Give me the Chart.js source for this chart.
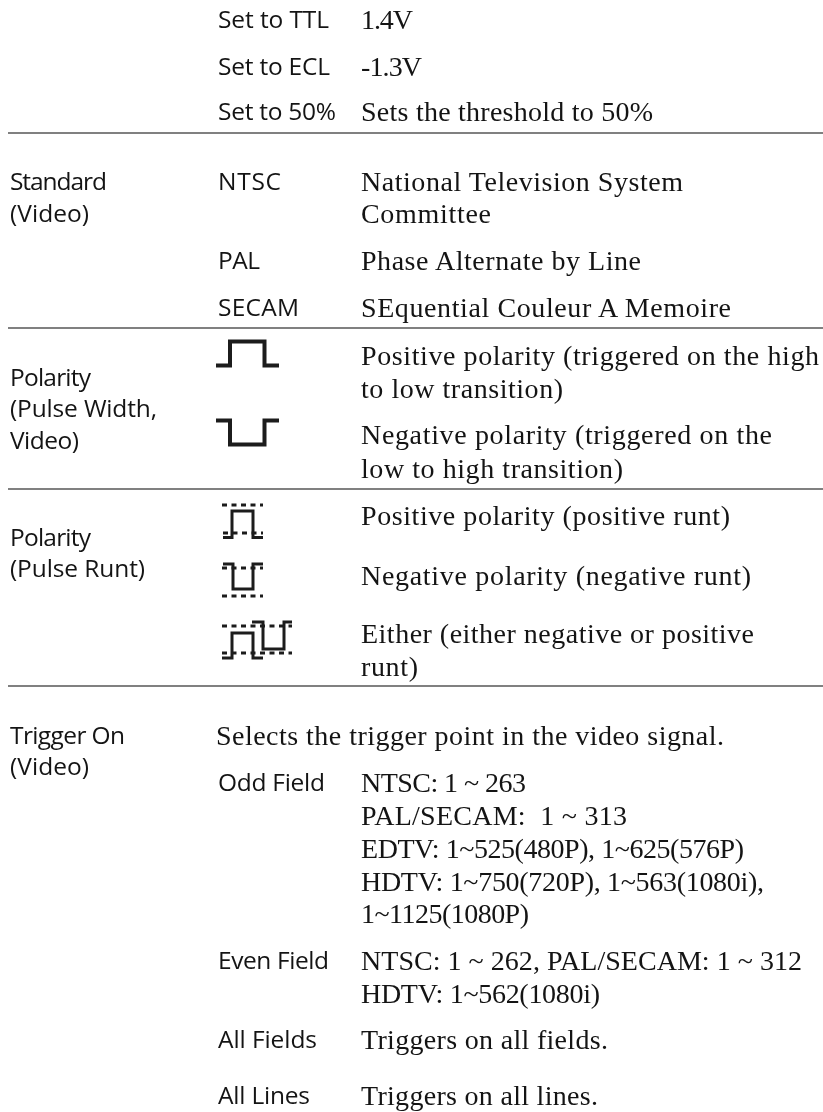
<!DOCTYPE html>
<html><head><meta charset="utf-8">
<script src="https://cdn.jsdelivr.net/npm/chart.js@4"></script>
<style>
html,body{margin:0;padding:0;background:#fff;overflow:hidden}
#wrap{position:relative;width:823px;height:1112px}
#c{position:absolute;left:0;top:0}
.t{position:absolute;white-space:pre;color:#141414;line-height:1}
.s{font-family:"Open Sans",sans-serif;font-size:24.5px}
.r{font-family:"Liberation Serif",serif;font-size:28px}
</style></head><body>
<div id="wrap"><canvas id="c" width="823" height="1112"></canvas></div>
<script>
// Text content
const sansLabels=["Set to TTL","Set to ECL","Set to 50%","Standard","(Video)","NTSC","PAL","SECAM","Polarity","(Pulse Width,","Video)","Polarity","(Pulse Runt)","Trigger On","(Video)","Odd Field","Even Field","All Fields","All Lines"];
const sansX=[218,218,218,10,10,218,218,218,10,10,10,10,10,10,10,218,218,218,218];
const sansBase=[29,76,121,191,223,191,270,317,387,418,450,547,578,745,776,792,970,1049,1105];
const sansEnd=[329,330,336,107,89,281,260,299,91,157,79,91,145,125,89,325,329,317,310];
const serifLabels=["1.4V","-1.3V","Sets the threshold to 50%","National Television System","Committee","Phase Alternate by Line","SEquential Couleur A Memoire","Positive polarity (triggered on the high","to low transition)","Negative polarity (triggered on the","low to high transition)","Positive polarity (positive runt)","Negative polarity (negative runt)","Either (either negative or positive","runt)","Selects the trigger point in the video signal.","NTSC: 1 ~ 263","PAL/SECAM:  1 ~ 313","EDTV: 1~525(480P), 1~625(576P)","HDTV: 1~750(720P), 1~563(1080i),","1~1125(1080P)","NTSC: 1 ~ 262, PAL/SECAM: 1 ~ 312","HDTV: 1~562(1080i)","Triggers on all fields.","Triggers on all lines."];
const serifX=[361,361,361,361,361,361,361,361,361,361,361,361,361,361,361,216,361,361,361,361,361,361,361,361,361];
const serifBase=[29,76,121,191,223,270,317,365,398,444,478,525,585,643,676,745,792,825,858,891,923,970,1003,1049,1105];
const serifEnd=[413,422,653,683,491,641,731,819,563,772,623,730,751,754,418,724,526,627,744,764,529,802,600,608,598];
// Rules
const ruleY=[133,328,489,686];
const ruleStart=8, ruleEnd=823;
// Waveforms: x and y series
const posPulseX=[216,230,230,264.5,264.5,279];
const posPulseY=[365.5,365.5,341.5,341.5,365.5,365.5];
const negPulseX=[216,230,230,264.5,264.5,279];
const negPulseY=[420.5,420.5,444.5,444.5,420.5,420.5];
const runtPosX=[223,232,232,253,253,263];
const runtPosY=[537.5,537.5,511,511,537.5,537.5];
const runtPosDotsTop=[[222,505],[263,505]];
const runtPosDotsMid=[[223,533],[263,533]];
const runtNegX=[223,233,233,253,253,263];
const runtNegY=[564,564,589,589,564,564];
const runtNegDotsMid=[[222,568],[263,568]];
const runtNegDotsBot=[[222,596],[263,596]];
const eitherAX=[222,232,232,253,253,263];
const eitherAY=[658,658,633,633,658,658];
const eitherBX=[252,263,263,284,284,292];
const eitherBY=[622,622,649,649,622,622];
const eitherDotsTop=[[222,626],[292,626]];
const eitherDotsBot=[[222,653],[292,653]];

const zip=(xs,ys)=>xs.map((x,i)=>({x,y:ys[i]}));
const pts=a=>a.map(p=>({x:p[0],y:p[1]}));
const ds=(data,w,extra)=>Object.assign({data,showLine:true,borderColor:'#1c1c1c',borderWidth:w,pointRadius:0,borderCapStyle:'butt',borderJoinStyle:'miter',tension:0},extra||{});
const dot={borderDash:[5,4.5]};
const datasets=[];
ruleY.forEach(y=>datasets.push(ds([{x:ruleStart,y},{x:ruleEnd,y}],2,{borderColor:'#808080'})));
datasets.push(ds(zip(posPulseX,posPulseY),4),ds(zip(negPulseX,negPulseY),4));
datasets.push(ds(zip(runtPosX,runtPosY),3),ds(zip(runtNegX,runtNegY),3),ds(zip(eitherAX,eitherAY),3),ds(zip(eitherBX,eitherBY),3));
[runtPosDotsTop,runtPosDotsMid,runtNegDotsMid,runtNegDotsBot,eitherDotsTop,eitherDotsBot].forEach(a=>datasets.push(ds(pts(a),3,dot)));

new Chart(document.getElementById('c'),{type:'scatter',data:{datasets},options:{
 responsive:false,animation:false,layout:{padding:0},
 plugins:{legend:{display:false},tooltip:{enabled:false},title:{display:false}},
 scales:{x:{type:'linear',min:0,max:823,display:false},y:{type:'linear',min:0,max:1112,reverse:true,display:false}}
}});

// Text placement: each line is fitted to the width
const wrap=document.getElementById('wrap');
function place(labels,xs,bases,ends,cls,ascent){
 labels.forEach((s,i)=>{
  const e=document.createElement('div');e.className='t '+cls;e.textContent=s;
  wrap.appendChild(e);
  const w=e.getBoundingClientRect().width;
  e.style.left=xs[i]+'px';
  e.style.top=(bases[i]-ascent)+'px';
  e.style.letterSpacing=((ends[i]-xs[i]-w)/Math.max(1,s.length-1))+'px';
 });
}
place(sansLabels,sansX,sansBase,sansEnd,'s',21.8);
place(serifLabels,serifX,serifBase,serifEnd,'r',23.45);
</script></body></html>
